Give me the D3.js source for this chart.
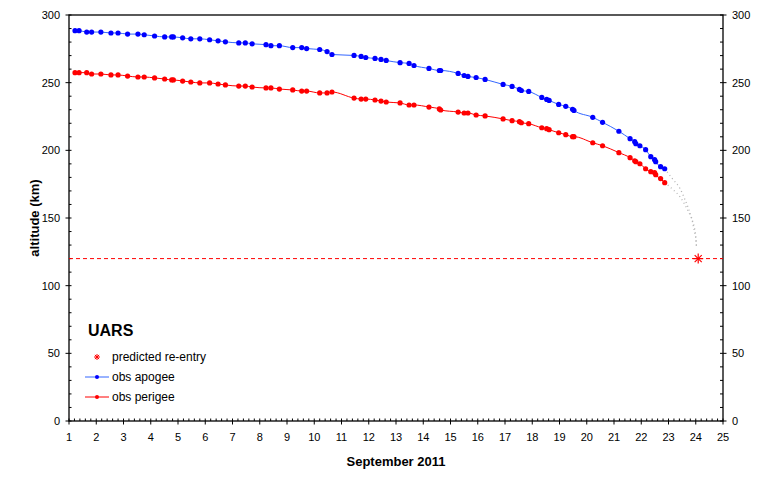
<!DOCTYPE html>
<html>
<head>
<meta charset="utf-8">
<script src="https://cdn.jsdelivr.net/npm/d3@7"></script>
<style>
  body { margin: 0; background: #fff; }
  text { font-family: "Liberation Sans", Arial, sans-serif; }
</style>
</head>
<body>
<div id="chart"></div>
<script>
// observation times (day of September 2011)
var days = [1.22, 1.37, 1.65, 1.83, 2.17, 2.54, 2.80, 3.15, 3.53, 3.76, 4.14, 4.51, 4.77, 4.83, 5.17, 5.47, 5.80, 6.16, 6.47, 6.74, 7.23, 7.47, 7.72,
    8.23, 8.41, 8.72, 9.21, 9.54, 9.72, 10.20, 10.47, 10.65, 11.46, 11.72, 11.89, 12.23, 12.45, 12.64, 13.15, 13.48, 13.66, 14.21, 14.59, 14.64, 15.28, 15.50, 15.64, 15.94, 16.27, 16.93,
    17.26, 17.53, 17.60, 17.87, 18.35, 18.53, 18.62, 18.97, 19.23, 19.48, 19.53, 20.22, 20.58, 21.18,
    21.59, 21.76, 21.80, 21.95, 22.16, 22.35, 22.49, 22.53, 22.71, 22.86];
var apogee = [288.4, 288.4, 287.4, 287.4, 287.4, 286.7, 286.7, 285.9, 285.9, 285.4, 284.5, 283.8, 283.8, 283.8, 283.1, 282.4, 282.4, 281.7, 280.9, 280.2, 279.4, 279.4, 278.7,
    278.1, 277.3, 277.3, 275.9, 275.9, 275.2, 274.5, 273.0, 270.8, 270.1, 269.4, 268.6, 267.9, 267.2, 266.4, 264.8, 264.2, 262.7, 260.5, 259.0, 259.0, 256.8, 255.3, 254.6, 253.8, 252.4, 248.7,
    247.2, 245.0, 244.2, 243.5, 239.1, 237.6, 236.9, 233.9, 232.5, 230.3, 229.5, 224.4, 220.7, 214.1,
    208.6, 206.4, 204.9, 203.4, 200.5, 195.3, 193.1, 191.6, 187.9, 186.4];
var perigee = [257.4, 257.4, 257.4, 256.4, 256.4, 255.7, 255.7, 254.9, 254.2, 254.2, 253.5, 252.7, 252.0, 252.0, 251.2, 250.5, 249.8, 249.8, 249.0, 248.3, 247.5, 247.5, 246.8,
    246.1, 246.1, 245.3, 244.6, 243.8, 243.8, 242.4, 242.4, 243.1, 238.6, 237.9, 237.9, 237.2, 236.4, 235.7, 235.0, 233.5, 233.5, 232.0, 230.6, 229.8, 228.3, 227.6, 227.6, 226.1, 225.4, 223.2,
    221.9, 221.2, 220.4, 219.7, 216.7, 216.0, 215.3, 213.0, 211.6, 210.1, 210.1, 205.6, 203.4, 198.3,
    194.6, 192.3, 191.6, 190.1, 186.4, 184.2, 183.5, 182.0, 179.1, 176.1];

// dotted extrapolations toward re-entry
var apoFitDays = [22.86, 23.18, 23.42, 23.61, 23.73, 23.85, 23.94, 24.01, 24.03];
var apoFitAlt = [186.4, 178.1, 171.9, 163.3, 157.2, 149.8, 141.1, 133.7, 127.6];
var periFitDays = [22.86, 23.18, 23.42, 23.64, 23.79, 23.89, 24.0, 24.03];
var periFitAlt = [176.1, 170.7, 165.7, 158.4, 152.2, 147.3, 136.0, 127.6];

var reentryDay = 24.09;
var reentryAlt = 120;

var xTicks = d3.range(1, 26);
var yTicks = [0, 50, 100, 150, 200, 250, 300];

var width = 762, height = 483;
var svg = d3.select("#chart").append("svg").attr("width", width).attr("height", height);

var x = d3.scaleLinear().domain([1, 25]).range([69, 723]);
var y = d3.scaleLinear().domain([0, 300]).range([421, 15]);

// frame
svg.append("rect").attr("x", x(1)).attr("y", y(300))
    .attr("width", x(25) - x(1)).attr("height", y(0) - y(300))
    .attr("fill", "none").attr("stroke", "#000").attr("stroke-width", 1.3);

// minor ticks
var g = svg.append("g").attr("stroke", "#000").attr("stroke-width", 1);
g.selectAll(".xm").data(d3.range(1, 25.01, 0.2)).enter().append("line")
    .attr("x1", function(d) { return x(d); }).attr("x2", function(d) { return x(d); })
    .attr("y1", y(0)).attr("y2", y(0) - 2.5);
g.selectAll(".xM").data(xTicks).enter().append("line")
    .attr("x1", function(d) { return x(d); }).attr("x2", function(d) { return x(d); })
    .attr("y1", y(0)).attr("y2", y(0) + 3.5);
g.selectAll(".yl").data(d3.range(0, 301, 10)).enter().append("line")
    .attr("x1", x(1)).attr("x2", x(1) + 2.5)
    .attr("y1", function(d) { return y(d); }).attr("y2", function(d) { return y(d); });
g.selectAll(".ylM").data(yTicks).enter().append("line")
    .attr("x1", x(1) - 3.5).attr("x2", x(1))
    .attr("y1", function(d) { return y(d); }).attr("y2", function(d) { return y(d); });
g.selectAll(".yr").data(d3.range(0, 301, 10)).enter().append("line")
    .attr("x1", x(25) - 3).attr("x2", x(25))
    .attr("y1", function(d) { return y(d); }).attr("y2", function(d) { return y(d); });
g.selectAll(".yrM").data(yTicks).enter().append("line")
    .attr("x1", x(25)).attr("x2", x(25) + 3.5)
    .attr("y1", function(d) { return y(d); }).attr("y2", function(d) { return y(d); });

// tick labels
svg.append("g").selectAll("text").data(xTicks).enter().append("text")
    .attr("x", function(d) { return x(d); }).attr("y", 441)
    .attr("text-anchor", "middle").attr("font-size", 11).text(function(d) { return d; });
svg.append("g").selectAll("text").data(yTicks).enter().append("text")
    .attr("x", 60).attr("y", function(d) { return y(d) + 4; })
    .attr("text-anchor", "end").attr("font-size", 11).text(function(d) { return d; });
svg.append("g").selectAll("text").data(yTicks).enter().append("text")
    .attr("x", 732).attr("y", function(d) { return y(d) + 4; })
    .attr("text-anchor", "start").attr("font-size", 11).text(function(d) { return d; });

// axis titles
svg.append("text").attr("x", x(13)).attr("y", 466).attr("text-anchor", "middle")
    .attr("font-size", 13).attr("font-weight", "bold").text("September 2011");
svg.append("text").attr("transform", "translate(39," + y(150) + ") rotate(-90)")
    .attr("text-anchor", "middle").attr("font-size", 13).attr("font-weight", "bold").text("altitude (km)");

// re-entry altitude line
svg.append("line").attr("x1", x(1)).attr("x2", x(25))
    .attr("y1", y(reentryAlt)).attr("y2", y(reentryAlt))
    .attr("stroke", "#ff0000").attr("stroke-width", 1).attr("stroke-dasharray", "4,3");

// extrapolations
var fitLine = d3.line().curve(d3.curveMonotoneX)
    .x(function(d) { return x(d[0]); }).y(function(d) { return y(d[1]); });
[d3.zip(apoFitDays, apoFitAlt), d3.zip(periFitDays, periFitAlt)].forEach(function(pts) {
    svg.append("path").attr("d", fitLine(pts)).attr("fill", "none")
        .attr("stroke", "#b4b4b4").attr("stroke-width", 1.3).attr("stroke-dasharray", "1,3");
});

// observed series
var obsLine = d3.line().curve(d3.curveMonotoneX)
    .x(function(d) { return x(d[0]); }).y(function(d) { return y(d[1]); });
var series = [
    { pts: d3.zip(days, perigee), line: "#ff0000", mark: "#ff0000" },
    { pts: d3.zip(days, apogee), line: "#3366ff", mark: "#0000ff" }
];
series.forEach(function(s) {
    svg.append("path").attr("d", obsLine(s.pts)).attr("fill", "none")
        .attr("stroke", s.line).attr("stroke-width", 1);
    svg.append("g").selectAll("circle").data(s.pts).enter().append("circle")
        .attr("cx", function(d) { return x(d[0]); })
        .attr("cy", function(d) { return y(d[1]); })
        .attr("r", 2.6).attr("fill", s.mark);
});

// asterisk
function asterisk(sel, cx, cy, r, w) {
    var a = sel.append("g").attr("stroke", "#ff0000").attr("stroke-width", w);
    [0, 45, 90, 135].forEach(function(ang) {
        var t = ang * Math.PI / 180;
        a.append("line").attr("x1", cx - r * Math.cos(t)).attr("y1", cy - r * Math.sin(t))
            .attr("x2", cx + r * Math.cos(t)).attr("y2", cy + r * Math.sin(t));
    });
}
asterisk(svg, x(reentryDay), y(reentryAlt), 5, 1.2);

// legend
svg.append("text").attr("x", 88).attr("y", 336).attr("font-size", 16).attr("font-weight", "bold").text("UARS");
asterisk(svg, 97, 357, 3, 1);
svg.append("text").attr("x", 112).attr("y", 361).attr("font-size", 12).text("predicted re-entry");
[{ c: "#3366ff", m: "#0000ff", t: "obs apogee", yy: 377 }, { c: "#ff0000", m: "#ff0000", t: "obs perigee", yy: 397 }].forEach(function(l) {
    svg.append("line").attr("x1", 85).attr("x2", 109).attr("y1", l.yy).attr("y2", l.yy).attr("stroke", l.c);
    svg.append("circle").attr("cx", 97).attr("cy", l.yy).attr("r", 2).attr("fill", l.m);
    svg.append("text").attr("x", 112).attr("y", l.yy + 4).attr("font-size", 12).text(l.t);
});
</script>
</body>
</html>
